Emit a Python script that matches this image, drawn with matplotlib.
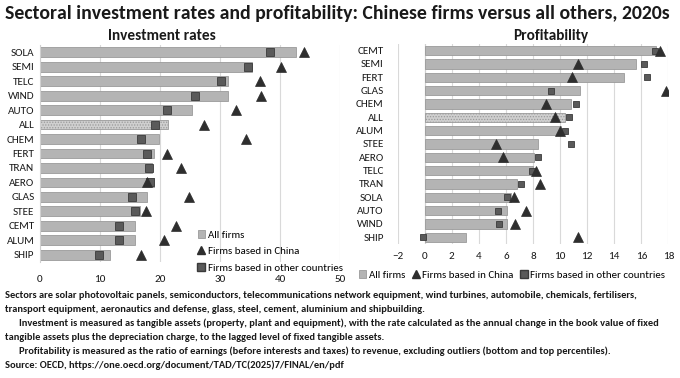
import matplotlib
matplotlib.use("Agg")
import matplotlib.pyplot as plt
from matplotlib.patches import Patch
from matplotlib.lines import Line2D

plt.rcParams['font.family'] = ['Carlito', 'DejaVu Sans']
plt.rcParams['hatch.color'] = '#8a8a8a'
plt.rcParams['hatch.linewidth'] = 0.6

# Investment rates (%)
inv_sectors = ["SOLA", "SEMI", "TELC", "WIND", "AUTO", "ALL", "CHEM", "FERT",
               "TRAN", "AERO", "GLAS", "STEE", "CEMT", "ALUM", "SHIP"]
inv_all = [42.7, 35.4, 31.4, 31.3, 25.3, 21.4, 19.9, 19.0, 18.7, 19.0, 17.8, 16.7, 15.8, 15.8, 11.7]
inv_china = [44.0, 40.2, 36.6, 36.9, 32.6, 27.3, 34.3, 21.2, 23.5, 17.9, 24.9, 17.6, 22.6, 20.6, 16.9]
inv_other = [38.4, 34.7, 30.2, 25.8, 21.1, 19.1, 16.9, 17.9, 18.1, 18.4, 15.3, 15.9, 13.2, 13.2, 9.8]

# Profitability (%)
prof_sectors = ["CEMT", "SEMI", "FERT", "GLAS", "CHEM", "ALL", "ALUM", "STEE",
                "AERO", "TELC", "TRAN", "SOLA", "AUTO", "WIND", "SHIP"]
prof_all = [17.1, 15.6, 14.7, 11.5, 10.8, 10.4, 10.1, 8.4, 8.1, 8.0, 6.8, 6.4, 6.1, 6.1, 3.05]
prof_china = [17.4, 11.3, 10.9, 17.8, 9.0, 9.6, 10.0, 5.3, 5.8, 8.2, 8.5, 6.6, 7.5, 6.7, 11.3]
prof_other = [17.0, 16.2, 16.4, 9.3, 11.2, 10.7, 10.4, 10.8, 8.4, 7.9, 7.1, 6.1, 5.4, 5.5, -0.1]

inv_ticks = [0, 10, 20, 30, 40, 50]
prof_ticks = [-2, 0, 2, 4, 6, 8, 10, 12, 14, 16, 18]

legend_labels = ["All firms", "Firms based in China", "Firms based in other countries"]

W, H = 680, 378
fig = plt.figure(figsize=(W / 100, H / 100), dpi=100)

BAR = "#b4b4b4"
BAR_EDGE = "#9a9a9a"
SQ = "#5a5a5a"
SQ_EDGE = "#3a3a3a"
TRI = "#2e2e2e"
GRID = "#d9d9d9"
TXT = "#1a1a1a"
FS = 8
LFS = 7.8


def draw(ax, sectors, allv, china, other, ticks, ms_sq, ms_tri, bh):
    n = len(sectors)
    ys = list(range(n))
    for y, s, v in zip(ys, sectors, allv):
        if s == "ALL":
            ax.barh(y, v, height=bh, color="#cfcfcf", edgecolor=BAR_EDGE,
                    hatch="......", linewidth=0.6, zorder=2)
        else:
            ax.barh(y, v, height=bh, color=BAR, edgecolor=BAR_EDGE, linewidth=0.6, zorder=2)
    ax.plot(other, ys, linestyle="none", marker="s", ms=ms_sq, mfc=SQ, mec=SQ_EDGE,
            mew=0.6, zorder=3)
    ax.plot(china, ys, linestyle="none", marker="^", ms=ms_tri, mfc=TRI, mec=TRI,
            mew=0.5, zorder=4)
    ax.set_yticks(ys)
    ax.set_yticklabels(sectors)
    ax.set_ylim(n - 0.5, -0.5)
    ax.set_xticks(ticks)
    ax.set_xlim(ticks[0], ticks[-1])
    ax.grid(axis="x", color=GRID, linewidth=0.8, zorder=0)
    ax.set_axisbelow(True)
    for sp in ["top", "right", "bottom"]:
        ax.spines[sp].set_visible(False)
    ax.spines["left"].set_color("#d0d0d0")
    ax.tick_params(axis="y", length=0, labelsize=FS, colors=TXT, pad=4)
    ax.tick_params(axis="x", length=0, labelsize=FS, colors=TXT, pad=6)


h_all = Patch(facecolor=BAR, edgecolor=BAR_EDGE, linewidth=0.6)
h_ch = Line2D([], [], linestyle="none", marker="^", ms=5.5, mfc=TRI, mec=TRI)
h_ot = Line2D([], [], linestyle="none", marker="s", ms=5.5, mfc=SQ, mec=SQ_EDGE)

ax1 = fig.add_axes([40 / W, 1 - 262 / H, 300 / W, (262 - 45) / H])
draw(ax1, inv_sectors, inv_all, inv_china, inv_other, inv_ticks, 5.5, 7.5, 0.68)
ax1.tick_params(axis="x", pad=9)
ax1.legend([h_all, h_ch, h_ot], legend_labels,
           loc="lower left", bbox_to_anchor=(0.525, -0.05), frameon=False,
           fontsize=LFS, handlelength=0.7, handletextpad=0.25, labelspacing=0.65,
           borderaxespad=0, borderpad=0)

ax2 = fig.add_axes([397.6 / W, 1 - 244 / H, (668.3 - 397.6) / W, (244 - 44) / H])
draw(ax2, prof_sectors, prof_all, prof_china, prof_other, prof_ticks, 5, 7, 0.7)
ax2.spines["left"].set_visible(False)
ax2.axvline(0, color="#d0d0d0", linewidth=0.8, zorder=1)
ax2.tick_params(axis="y", pad=10)
ax2.legend([h_all, h_ch, h_ot], legend_labels,
           loc="upper center", bbox_to_anchor=(0.423, -0.13), ncol=3, frameon=False,
           fontsize=LFS, handlelength=0.7, handletextpad=0.25, columnspacing=0.6,
           borderaxespad=0, borderpad=0)

fig.text(162 / W, 1 - 36 / H, "Investment rates",
         fontsize=11, fontweight="bold", color=TXT, ha="center", va="center")
fig.text(551 / W, 1 - 36 / H, "Profitability",
         fontsize=11, fontweight="bold", color=TXT, ha="center", va="center")

fig.text(5 / W, 1 - 13 / H,
         "Sectoral investment rates and profitability: Chinese firms versus all others, 2020s",
         fontsize=14.2, fontweight="bold", color=TXT, va="center", ha="left")

notes = [
    (5, 295, "Sectors are solar photovoltaic panels, semiconductors, telecommunications network equipment, wind turbines, automobile, chemicals, fertilisers,"),
    (5, 309, "transport equipment, aeronautics and defense, glass, steel, cement, aluminium and shipbuilding."),
    (19, 323, "Investment is measured as tangible assets (property, plant and equipment), with the rate calculated as the annual change in the book value of fixed"),
    (5, 337, "tangible assets plus the depreciation charge, to the lagged level of fixed tangible assets."),
    (19, 351, "Profitability is measured as the ratio of earnings (before interests and taxes) to revenue, excluding outliers (bottom and top percentiles)."),
    (5, 365, "Source: OECD, https://one.oecd.org/document/TAD/TC(2025)7/FINAL/en/pdf"),
]
for x, y, t in notes:
    fig.text(x / W, 1 - y / H, t, fontsize=7.5, fontweight="bold", color=TXT, va="center", ha="left")

fig.savefig("out.png", dpi=100, facecolor="white")
